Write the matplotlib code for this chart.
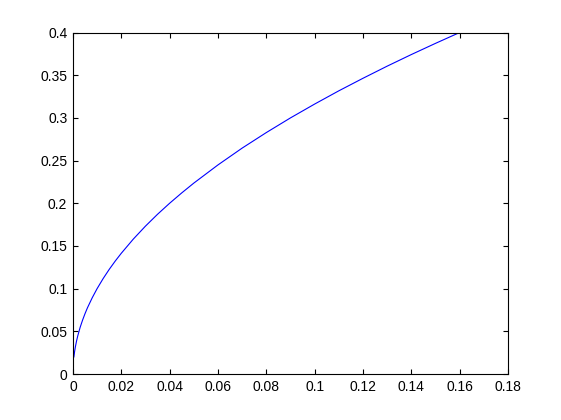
import matplotlib
matplotlib.use("Agg")
import matplotlib.pyplot as plt

x_vals = [0.0004, 0.0007, 0.001, 0.0015, 0.002, 0.003, 0.004, 0.005, 0.006, 0.008,
          0.010, 0.0125, 0.015, 0.0175, 0.020, 0.025, 0.030, 0.035, 0.040, 0.045,
          0.050, 0.060, 0.070, 0.080, 0.090, 0.100, 0.110, 0.120, 0.130, 0.140,
          0.150, 0.160]
y_vals = [0.020, 0.0265, 0.0316, 0.0387, 0.0447, 0.0548, 0.0632, 0.0707, 0.0775, 0.0894,
          0.100, 0.1118, 0.1225, 0.1323, 0.1414, 0.1581, 0.1732, 0.1871, 0.200, 0.2121,
          0.2236, 0.2449, 0.2646, 0.2828, 0.300, 0.3162, 0.3317, 0.3464, 0.3606, 0.3742,
          0.3873, 0.400]
x_ticks = [0, 0.02, 0.04, 0.06, 0.08, 0.1, 0.12, 0.14, 0.16, 0.18]
x_tick_labels = ["0", "0.02", "0.04", "0.06", "0.08", "0.1", "0.12", "0.14", "0.16", "0.18"]
y_ticks = [0, 0.05, 0.1, 0.15, 0.2, 0.25, 0.3, 0.35, 0.4]
y_tick_labels = ["0", "0.05", "0.1", "0.15", "0.2", "0.25", "0.3", "0.35", "0.4"]

plt.rcParams['font.family'] = ['Liberation Sans', 'DejaVu Sans']
fig = plt.figure(figsize=(5.61, 4.2), dpi=100)
fig.patch.set_facecolor('white')
ax = fig.add_axes([0.130, 0.1095, 0.7754, 0.813])
ax.plot(x_vals, y_vals, color='#0000ff', linewidth=0.8)
ax.set_xlim(0, 0.18)
ax.set_ylim(0, 0.4)
ax.set_xticks(x_ticks)
ax.set_xticklabels(x_tick_labels)
ax.set_yticks(y_ticks)
ax.set_yticklabels(y_tick_labels)
ax.tick_params(direction='in', top=True, right=True, length=3.5, width=0.8,
               labelsize=10, pad=4, colors='black')
for s in ax.spines.values():
    s.set_linewidth(0.8)
    s.set_color('black')
fig.savefig('out.png', dpi=100, facecolor='white')
